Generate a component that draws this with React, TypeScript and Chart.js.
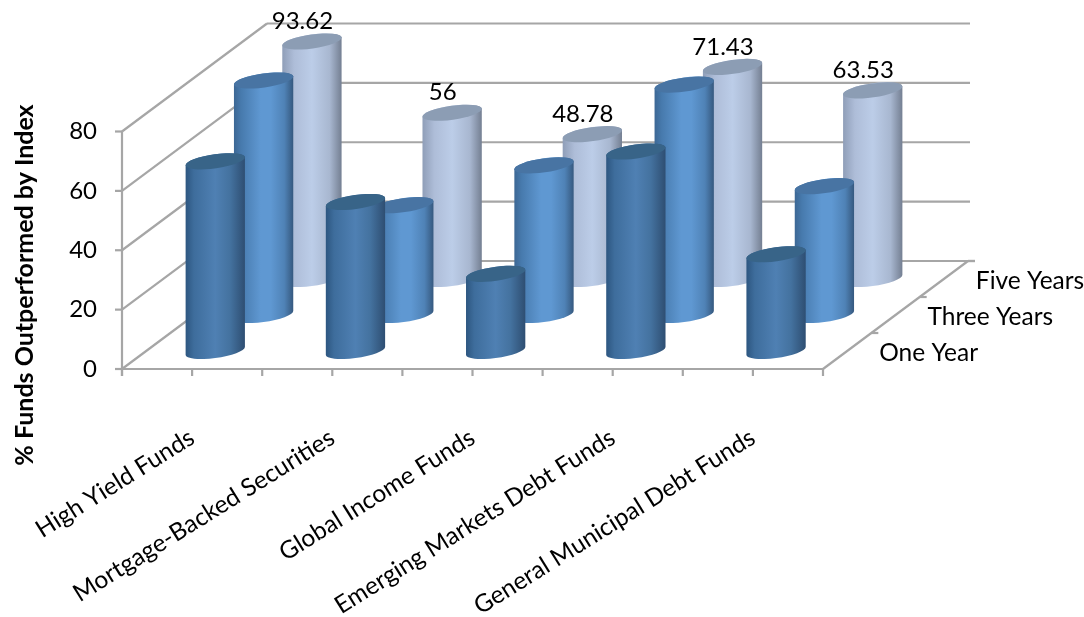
import React, { useEffect, useRef } from "react";
import { Chart, registerables } from "chart.js";

Chart.register(...registerables);

// Fund categories along the front of the floor
const categories = [
  "High Yield Funds",
  "Mortgage-Backed Securities",
  "Global Income Funds",
  "Emerging Markets Debt Funds",
  "General Municipal Debt Funds",
];

// Front-to-back series names
const depthLabels = ["One Year", "Three Years", "Five Years"];

// Percent of funds outperformed by the index
const oneYear = [63.9, 50.2, 26, 67.2, 32.6];
const threeYears = [79, 37, 50.4, 77.6, 43.4];
const fiveYears = [93.62, 56, 48.78, 71.43, 63.53];

const yTicks = [0, 20, 40, 60, 80];
const axisTitle = "% Funds Outperformed by Index";

const FONT = "Lato, sans-serif";
const GRID = "#a6a6a6";

// Oblique projection of the floor's depth, in pixels
const DEPTH_X = 145;
const DEPTH_Y = 108;

const BODY_STOPS: [number, string][][] = [
  [[0, "#2d5680"], [0.14, "#3e6d9c"], [0.5, "#4f80b3"], [0.75, "#44729f"], [1, "#2e4e72"]],
  [[0, "#3c6794"], [0.12, "#477aad"], [0.45, "#5f98d2"], [0.62, "#5f98d2"], [0.85, "#4f82b6"], [1, "#36597f"]],
  [[0, "#8f9eb8"], [0.2, "#aebdd8"], [0.5, "#bccde8"], [0.8, "#a8b7d0"], [1, "#747f92"]],
];
const TOP_COLORS = ["#386488", "#4874a3", "#8c9db4"];

const ELLIPSE_TILT = (-8 * Math.PI) / 180;

function drawCylinder(
  ctx: CanvasRenderingContext2D,
  cx: number,
  topY: number,
  baseY: number,
  halfWidth: number,
  series: number
) {
  const a = halfWidth + 0.2;
  const b = 7;
  const t0 = Math.atan((-b / a) * Math.tan(ELLIPSE_TILT));
  const xOff = a * Math.cos(t0) * Math.cos(ELLIPSE_TILT) - b * Math.sin(t0) * Math.sin(ELLIPSE_TILT);
  const yOff = a * Math.cos(t0) * Math.sin(ELLIPSE_TILT) + b * Math.sin(t0) * Math.cos(ELLIPSE_TILT);

  const grad = ctx.createLinearGradient(cx - xOff, 0, cx + xOff, 0);
  BODY_STOPS[series].forEach(([p, c]) => grad.addColorStop(p, c));

  ctx.beginPath();
  ctx.ellipse(cx, baseY, a, b, ELLIPSE_TILT, t0, t0 + Math.PI, false);
  ctx.lineTo(cx - xOff, topY - yOff);
  ctx.ellipse(cx, topY, a, b, ELLIPSE_TILT, t0 + Math.PI, t0 + 2 * Math.PI, false);
  ctx.closePath();
  ctx.fillStyle = grad;
  ctx.fill();

  ctx.beginPath();
  ctx.ellipse(cx, topY, a, b, ELLIPSE_TILT, 0, 2 * Math.PI);
  ctx.fillStyle = TOP_COLORS[series];
  ctx.fill();
}

const scene3d = {
  id: "scene3d",
  // Walls, floor and tick marks sit behind the cylinders
  beforeDatasetsDraw(chart: any) {
    const { ctx, scales } = chart;
    const xs = scales.x;
    const ys = scales.y;
    const left = xs.left;
    const right = xs.right;
    const floor = ys.getPixelForValue(0);
    const top = ys.getPixelForValue(yTicks[yTicks.length - 1]);

    ctx.save();
    ctx.strokeStyle = GRID;
    ctx.lineWidth = 2.2;
    const line = (x1: number, y1: number, x2: number, y2: number) => {
      ctx.beginPath();
      ctx.moveTo(x1, y1);
      ctx.lineTo(x2, y2);
      ctx.stroke();
    };

    yTicks.forEach((v) => {
      const y = ys.getPixelForValue(v);
      line(left - 7, y, left, y);
      line(left, y, left + DEPTH_X, y - DEPTH_Y);
      line(left + DEPTH_X, y - DEPTH_Y, right + DEPTH_X + 2, y - DEPTH_Y);
    });
    line(left, top, left, floor + 7);
    line(left, floor, right, floor);
    line(right, floor, right + DEPTH_X, floor - DEPTH_Y);
    line(right + DEPTH_X, floor - DEPTH_Y, right + DEPTH_X + 7, floor - DEPTH_Y);

    const step = (right - left) / categories.length;
    for (let i = 0; i <= categories.length * 2; i++) {
      const x = left + (step / 2) * i;
      line(x, floor, x, floor + 7);
    }
    depthLabels.forEach((_, i) => {
      const f = (i + 1) / depthLabels.length;
      const x = right + DEPTH_X * f;
      const y = floor - DEPTH_Y * f;
      line(x, y, x + 7, y);
    });
    ctx.restore();
  },
  afterDatasetsDraw(chart: any) {
    const { ctx, scales, data } = chart;
    const xs = scales.x;
    const ys = scales.y;
    const halfWidth = ((xs.right - xs.left) / categories.length) * 0.212;
    const count = data.datasets.length;

    ctx.save();
    // Rear series first, so nearer cylinders overlap it
    for (let s = count - 1; s >= 0; s--) {
      const f = (s + 0.5) / count;
      (data.datasets[s].data as number[]).forEach((v, i) => {
        const cx = xs.getPixelForValue(i) + DEPTH_X * f - 1;
        const base = ys.getPixelForValue(0) - DEPTH_Y * f;
        // Values past the axis maximum are cut off at the top of the axis
        const topY = ys.getPixelForValue(Math.min(v, ys.max)) - DEPTH_Y * f;
        drawCylinder(ctx, cx, topY, base, halfWidth, s);
      });
    }

    // Value labels over the rear series
    const backF = (count - 0.5) / count;
    ctx.fillStyle = "#000";
    ctx.font = `24px ${FONT}`;
    ctx.textAlign = "center";
    ctx.textBaseline = "middle";
    fiveYears.forEach((v, i) => {
      const cx = xs.getPixelForValue(i) + DEPTH_X * backF;
      const topY = ys.getPixelForValue(Math.min(v, ys.max)) - DEPTH_Y * backF;
      ctx.fillText(String(v), cx - 10.5, topY - 20);
    });

    // Depth axis labels beside the right floor edge
    ctx.textAlign = "left";
    ctx.font = `24.5px ${FONT}`;
    depthLabels.forEach((name, i) => {
      const f = (i + 0.5) / depthLabels.length;
      ctx.fillText(name, xs.right + DEPTH_X * f + 32, ys.getPixelForValue(0) - DEPTH_Y * f + 2);
    });

    // Rotated value-axis title
    ctx.translate(25, 285);
    ctx.rotate(-Math.PI / 2);
    ctx.textAlign = "center";
    ctx.font = `bold 25px ${FONT}`;
    ctx.fillText(axisTitle, 0, 0);
    ctx.restore();
  },
};

export default function App() {
  const ref = useRef<HTMLCanvasElement>(null);

  useEffect(() => {
    if (!ref.current) return;
    const chart = new Chart(ref.current, {
      type: "bar",
      data: {
        labels: categories,
        datasets: [
          { label: depthLabels[0], data: oneYear, backgroundColor: "transparent" },
          { label: depthLabels[1], data: threeYears, backgroundColor: "transparent" },
          { label: depthLabels[2], data: fiveYears, backgroundColor: "transparent" },
        ],
      },
      plugins: [scene3d],
      options: {
        animation: false,
        responsive: false,
        layout: { autoPadding: false, padding: { top: 131.5, right: 261, left: 0, bottom: 0 } },
        plugins: { legend: { display: false }, tooltip: { enabled: false } },
        scales: {
          x: {
            grid: { display: false, drawTicks: false },
            border: { display: false },
            ticks: {
              autoSkip: false,
              minRotation: 32,
              maxRotation: 32,
              padding: 54,
              color: "#000",
              font: { family: FONT, size: 24.5 },
            },
            afterFit: (s: any) => {
              s.height = 248;
              s.paddingLeft = 0;
              s.paddingRight = 0;
            },
          },
          y: {
            min: 0,
            max: 80,
            grid: { display: false, drawTicks: false },
            border: { display: false },
            ticks: {
              stepSize: 20,
              padding: 25,
              color: "#000",
              font: { family: FONT, size: 24 },
            },
            afterFit: (s: any) => {
              s.width = 122;
              s.paddingTop = 0;
              s.paddingBottom = 0;
            },
          },
        },
      },
    } as any);
    return () => chart.destroy();
  }, []);

  return (
    <div style={{ position: "fixed", left: 0, top: 0, width: 1084, height: 617, background: "#fff" }}>
      <canvas ref={ref} width={1084} height={617} style={{ display: "block" }} />
    </div>
  );
}
